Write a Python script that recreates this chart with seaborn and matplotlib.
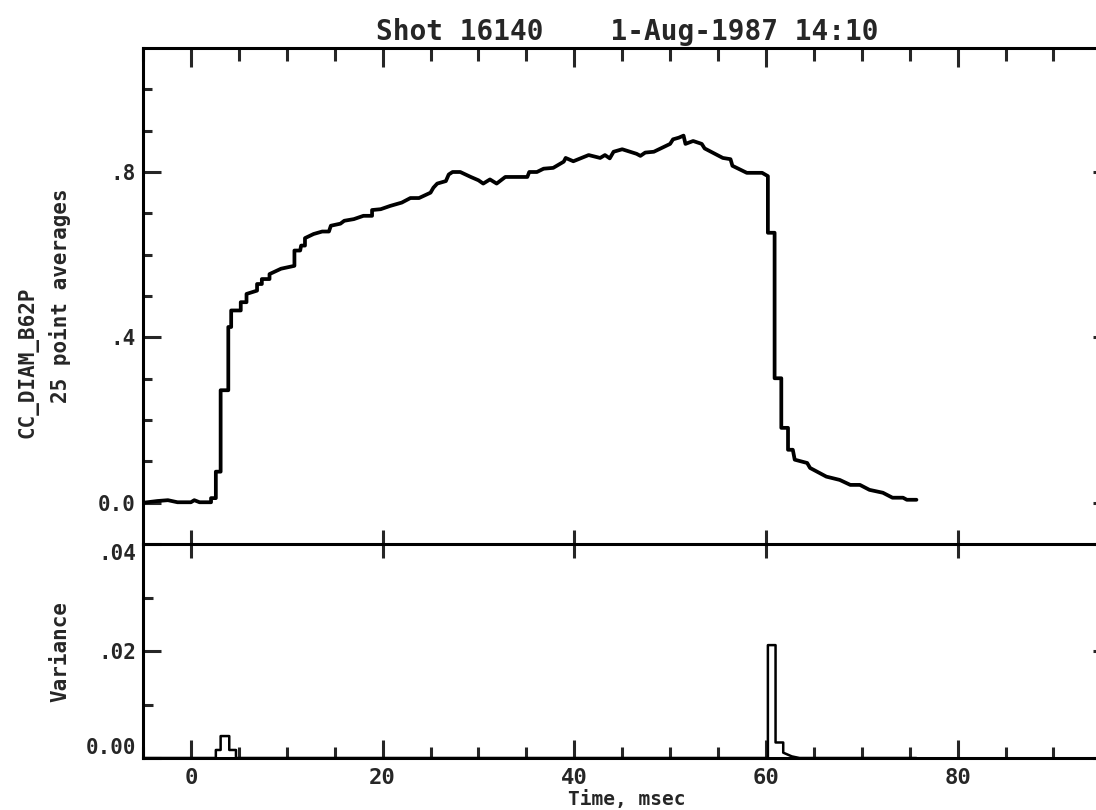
import matplotlib
matplotlib.use("Agg")
import matplotlib.pyplot as plt
from matplotlib.ticker import MultipleLocator, FixedLocator
import pandas as pd
import seaborn as sns

# ---------------- data ----------------
title_text = "Shot 16140    1-Aug-1987 14:10"
signal_name = "CC_DIAM_B62P"
avg_label = "25 point averages"
var_label = "Variance"
x_label = "Time, msec"

avg_time = [-4.9, -3.5, -2.4, -1.4, 0.0, 0.35, 0.9, 2.1, 2.1, 2.6, 2.6, 3.1, 3.1, 3.9,
            3.9, 4.2, 4.2, 5.2, 5.2, 5.8, 5.8, 6.9, 6.9, 7.4, 7.4, 8.2, 8.2, 9.4, 10.8,
            10.8, 11.4, 11.5, 11.9, 11.9, 12.8, 13.7, 14.4, 14.6, 15.6, 16.0, 17.0, 18.0,
            18.9, 18.9, 19.8, 20.8, 22.0, 22.9, 23.8, 25.0, 25.3, 25.7, 26.6, 26.9, 27.3,
            28.1, 29.2, 30.0, 30.5, 31.2, 31.9, 32.8, 35.1, 35.3, 36.1, 36.8, 37.8, 38.9,
            39.1, 39.9, 41.5, 42.7, 43.2, 43.7, 44.1, 45.0, 46.5, 46.9, 47.4, 48.3, 50.0,
            50.3, 50.9, 51.4, 51.6, 52.4, 53.3, 53.6, 55.5, 56.3, 56.5, 58.0, 59.6, 60.2,
            60.2, 60.9, 60.9, 61.6, 61.6, 62.3, 62.3, 62.8, 63.0, 64.3, 64.6, 66.3, 67.7,
            68.8, 69.8, 70.8, 72.2, 73.2, 74.3, 74.7, 75.7]
avg_value = [0.000, 0.004, 0.006, 0.001, 0.001, 0.006, 0.001, 0.001, 0.011, 0.011, 0.075,
             0.075, 0.272, 0.272, 0.425, 0.425, 0.465, 0.465, 0.485, 0.485, 0.505, 0.513,
             0.529, 0.529, 0.541, 0.541, 0.553, 0.566, 0.573, 0.610, 0.610, 0.622, 0.622,
             0.640, 0.650, 0.656, 0.656, 0.670, 0.675, 0.682, 0.686, 0.694, 0.694, 0.708,
             0.710, 0.718, 0.726, 0.737, 0.737, 0.750, 0.762, 0.772, 0.778, 0.794, 0.800,
             0.800, 0.788, 0.780, 0.772, 0.782, 0.772, 0.788, 0.788, 0.800, 0.800, 0.808,
             0.810, 0.825, 0.834, 0.826, 0.841, 0.834, 0.841, 0.833, 0.849, 0.855, 0.844,
             0.839, 0.847, 0.849, 0.868, 0.879, 0.883, 0.888, 0.868, 0.875, 0.868, 0.857,
             0.834, 0.831, 0.815, 0.798, 0.798, 0.790, 0.653, 0.653, 0.301, 0.301, 0.181,
             0.181, 0.128, 0.128, 0.104, 0.096, 0.084, 0.063, 0.055, 0.043, 0.043, 0.031,
             0.024, 0.012, 0.012, 0.007, 0.007]

var_time = [-4.9, 2.6, 2.6, 3.1, 3.1, 4.0, 4.0, 4.7, 4.7, 60.2, 60.2, 61.0, 61.0,
            61.8, 61.8, 62.7, 63.5, 75.7]
var_value = [0.0, 0.0, 0.0015, 0.0015, 0.0041, 0.0041, 0.0015, 0.0015, 0.0, 0.0,
             0.0211, 0.0211, 0.0029, 0.0029, 0.0010, 0.0003, 0.0, 0.0]

x_major = [0, 20, 40, 60, 80]
x_major_labels = ["0", "20", "40", "60", "80"]
top_y_major = [0.0, 0.4, 0.8]
top_y_labels = ["0.0", ".4", ".8"]
bot_y_major = [0.0, 0.02, 0.04]
bot_y_labels = ["0.00", ".02", ".04"]

df_avg = pd.DataFrame({"time": avg_time, "value": avg_value})
df_var = pd.DataFrame({"time": var_time, "value": var_value})

# ---------------- style ----------------
sns.set_theme(style="white")
plt.rcParams["font.family"] = ["DejaVu Sans Mono", "DejaVu Sans"]
plt.rcParams["font.weight"] = "bold"
plt.rcParams["axes.edgecolor"] = "black"

W_PX, H_PX = 1096, 810
fig = plt.figure(figsize=(W_PX / 100, H_PX / 100), dpi=100)
fig.patch.set_facecolor("white")

left_px, right_px = 143, 1111
top_px, mid_px, bot_px = 48, 544, 758
L = left_px / W_PX
Wd = (right_px - left_px) / W_PX
ax1 = fig.add_axes([L, 1 - mid_px / H_PX, Wd, (mid_px - top_px) / H_PX])
ax2 = fig.add_axes([L, 1 - bot_px / H_PX, Wd, (bot_px - mid_px) / H_PX])

sns.lineplot(data=df_avg, x="time", y="value", sort=False, estimator=None,
             color="black", linewidth=2.7, ax=ax1)
sns.lineplot(data=df_var, x="time", y="value", sort=False, estimator=None,
             color="black", linewidth=1.8, ax=ax2)

lw_sp = 2.2
for ax in (ax1, ax2):
    ax.set_xlim(-5, 96)
    ax.set_facecolor("white")
    for s in ax.spines.values():
        s.set_linewidth(lw_sp)
        s.set_color("black")
    ax.set_xlabel("")
    ax.set_ylabel("")

ax1.spines["bottom"].set_visible(False)

# top panel
ax1.set_ylim(-0.1, 1.1)
ax1.set_xticks(x_major)
ax1.xaxis.set_minor_locator(MultipleLocator(5))
ax1.tick_params(axis="x", which="both", bottom=False, top=True, labelbottom=False,
                labeltop=False, direction="in", width=lw_sp)
ax1.tick_params(axis="x", which="major", length=14)
ax1.tick_params(axis="x", which="minor", length=9)
ax1.set_yticks(top_y_major, labels=top_y_labels)
ax1.yaxis.set_minor_locator(FixedLocator([0.1, 0.2, 0.3, 0.5, 0.6, 0.7, 0.9, 1.0]))
ax1.tick_params(axis="y", which="both", left=True, right=True, direction="in",
                width=lw_sp, labelsize=15, pad=5)
ax1.tick_params(axis="y", which="major", length=13)
ax1.tick_params(axis="y", which="minor", length=6.5)

# bottom panel
ax2.set_ylim(0, 0.04)
ax2.set_xticks(x_major, labels=x_major_labels)
ax2.xaxis.set_minor_locator(MultipleLocator(5))
ax2.tick_params(axis="x", which="both", bottom=True, direction="in", width=lw_sp,
                labelsize=16, pad=7)
ax2.tick_params(axis="x", which="major", length=13, top=True)
ax2.tick_params(axis="x", which="minor", length=8, top=False)
ax2.set_yticks(bot_y_major, labels=bot_y_labels)
ax2.yaxis.set_minor_locator(FixedLocator([0.01, 0.03]))
ax2.tick_params(axis="y", which="both", left=True, right=True, direction="in",
                width=lw_sp, labelsize=15, pad=5)
ax2.tick_params(axis="y", which="major", length=13)
ax2.tick_params(axis="y", which="minor", length=7)
# top-side ticks of the lower panel cross the divider line
for t in ax2.xaxis.get_major_ticks():
    t.tick2line.set_marker("|")
    t.tick2line.set_markersize(20)
ylabs = ax2.get_yticklabels()
ylabs[0].set_va("bottom")
ylabs[-1].set_va("top")

# texts
ax1.set_title(title_text, fontsize=20, fontweight="bold", pad=6)
ax1.set_ylabel(avg_label, fontsize=15, fontweight="bold", va="center")
ax1.yaxis.set_label_coords((60 - left_px) / (right_px - left_px), 0.5)
ax2.set_ylabel(var_label, fontsize=15, fontweight="bold", va="center")
ax2.yaxis.set_label_coords((60 - left_px) / (right_px - left_px), 0.5)
ax2.set_xlabel(x_label, fontsize=14, fontweight="bold", va="center")
ax2.xaxis.set_label_coords(0.5, (bot_px - 800) / (bot_px - mid_px))
fig.text(28 / W_PX, 1 - 362 / H_PX, signal_name, rotation=90, fontsize=15,
         fontweight="bold", ha="center", va="center")

fig.savefig("out.png", dpi=100, facecolor="white")
